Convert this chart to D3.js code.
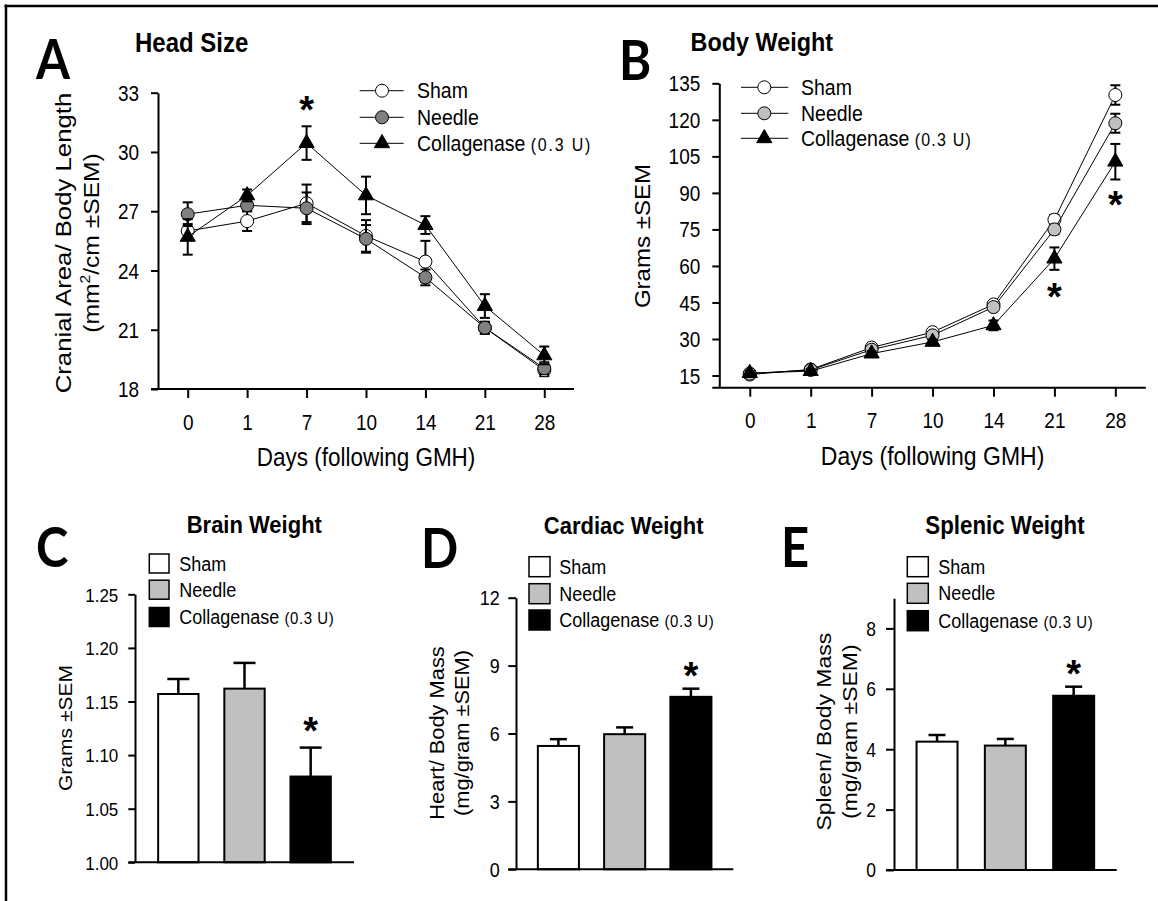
<!DOCTYPE html>
<html>
<head>
<meta charset="utf-8">
<script src="https://cdnjs.cloudflare.com/ajax/libs/d3/7.8.5/d3.min.js"></script>
<style>
  body { margin: 0; background: #fff; }
  svg { display: block; font-family: "Liberation Sans", Arial, sans-serif; }
</style>
</head>
<body>
<svg id="fig" width="1158" height="901"></svg>
<script>
// ---- data ----
var days = ["0", "1", "7", "10", "14", "21", "28"];
var groups = ["Sham", "Needle", "Collagenase"];

// A: head size (cranial area / body length)
var headSham = [26.0, 26.5, 27.4, 25.75, 24.45, 21.1, 18.95];
var headNeedle = [26.85, 27.3, 27.15, 25.6, 23.65, 21.1, 19.05];
var headColl = [25.7, 27.8, 30.45, 27.8, 26.3, 22.2, 19.7];
var headShamSem = [0.35, 0.5, 0.95, 0.8, 1.05, 0.3, 0.3];
var headNeedleSem = [0.6, 0.3, 0.8, 0.7, 0.4, 0.3, 0.3];
var headCollSem = [0.9, 0.3, 0.85, 0.95, 0.45, 0.6, 0.45];
var headTicks = [18, 21, 24, 27, 30, 33];

// B: body weight
var bodySham = [15.4, 17.5, 26.5, 32.8, 44.2, 79.0, 130.2];
var bodyNeedle = [15.8, 17.3, 25.6, 31.5, 43.1, 75.0, 118.6];
var bodyColl = [16.0, 16.8, 24.0, 28.8, 35.6, 63.0, 102.8];
var bodyShamSem = [0.8, 0.8, 1.0, 1.2, 1.3, 2.0, 4.0];
var bodyNeedleSem = [0.8, 0.8, 1.0, 1.0, 1.3, 2.0, 3.9];
var bodyCollSem = [0.8, 0.8, 1.0, 1.0, 2.0, 4.6, 7.3];
var bodyTicks = [15, 30, 45, 60, 75, 90, 105, 120, 135];

// C, D, E: organ weights (Sham, Needle, Collagenase)
var brainMean = [1.157, 1.162, 1.080];
var brainSem = [0.014, 0.024, 0.027];
var brainTicks = [1.00, 1.05, 1.10, 1.15, 1.20, 1.25];
var heartMean = [5.45, 5.97, 7.62];
var heartSem = [0.3, 0.3, 0.36];
var heartTicks = [0, 3, 6, 9, 12];
var spleenMean = [4.25, 4.12, 5.77];
var spleenSem = [0.22, 0.22, 0.3];
var spleenTicks = [0, 2, 4, 6, 8];

var svg = d3.select("#fig");
var SY = 1.12; // the source figure has its lettering slightly stretched vertically

svg.append("rect").attr("width", 1158).attr("height", 901).attr("fill", "#fff");
// frame (only top and left edges survive in the crop)
svg.append("line").attr("x1", 4.5).attr("x2", 1158).attr("y1", 6).attr("y2", 6)
  .attr("stroke", "#000").attr("stroke-width", 2.5);
svg.append("line").attr("x1", 6).attr("x2", 6).attr("y1", 4.5).attr("y2", 901)
  .attr("stroke", "#000").attr("stroke-width", 2.5);

function txt(g, x, y, str, size, anchor, bold) {
  return g.append("text")
    .attr("transform", "translate(" + x + "," + y + ") scale(1," + SY + ")")
    .attr("y", 0.355 * size)
    .attr("text-anchor", anchor || "middle")
    .attr("font-size", size)
    .attr("font-weight", bold ? "bold" : "normal")
    .attr("fill", "#000")
    .text(str);
}

function vtxt(g, x, y, str, size) {
  return g.append("text")
    .attr("transform", "translate(" + x + "," + y + ") rotate(-90) scale(" + SY + ",1)")
    .attr("y", 0.355 * size)
    .attr("text-anchor", "middle")
    .attr("font-size", size)
    .attr("fill", "#000")
    .text(str);
}

function letter(g, x, y, str) {
  txt(g, x, y, str, 49, "start", true)
    .attr("font-family", "Lato, 'Liberation Sans', sans-serif");
}

function star(g, x, cy) {
  var size = 38;
  g.append("text")
    .attr("x", x).attr("y", cy + 0.58 * size)
    .attr("text-anchor", "middle")
    .attr("font-size", size).attr("font-weight", "bold")
    .text("*");
}

function collName(t, small, spacing) {
  t.text(null);
  t.append("tspan").text("Collagenase ");
  t.append("tspan").attr("font-size", small).attr("letter-spacing", spacing).text("(0.3 U)");
}

function leftAxis(g, y, x0, ticks, fmt, size, tick, pad) {
  var ax = g.append("g")
    .attr("transform", "translate(" + x0 + ",0)")
    .call(d3.axisLeft(y).tickValues(ticks).tickFormat(fmt).tickSize(tick).tickSizeOuter(0));
  ax.attr("font-family", null).attr("font-size", null);
  ax.selectAll("path, line").attr("stroke", "#000").attr("stroke-width", 2);
  ax.selectAll(".tick text")
    .attr("x", null).attr("dy", null)
    .attr("y", 0.355 * size)
    .attr("font-size", size)
    .attr("fill", "#000")
    .attr("transform", "translate(" + (-(tick + pad)) + ",0) scale(1," + SY + ")");
  return ax;
}

// ---------- line panels (A, B) ----------
function linePanel(o) {
  var g = svg.append("g");
  var x = d3.scalePoint().domain(days).range([o.x0, o.x1]).padding(0.5);
  var y = d3.scaleLinear().domain(o.yDomain).range([o.y0, o.y1]);

  leftAxis(g, y, o.x0, o.ticks, d3.format("d"), 19, 7, 12);

  var xa = g.append("g")
    .attr("transform", "translate(0," + o.y0 + ")")
    .call(d3.axisBottom(x).tickSize(9));
  xa.attr("font-family", null).attr("font-size", null);
  xa.select(".domain").remove();
  xa.selectAll("line").attr("stroke", "#000").attr("stroke-width", 2);
  xa.selectAll(".tick text")
    .attr("dy", null)
    .attr("y", 0.355 * 19)
    .attr("font-size", 19)
    .attr("fill", "#000")
    .attr("transform", "translate(0,33) scale(1," + SY + ")");
  g.append("line")
    .attr("x1", o.x0 - 7).attr("x2", o.x1)
    .attr("y1", o.y0).attr("y2", o.y0)
    .attr("stroke", "#000").attr("stroke-width", 2);

  var line = d3.line()
    .x(function(d) { return x(d.day); })
    .y(function(d) { return y(d.m); });

  o.series.forEach(function(s) {
    var pts = days.map(function(d, i) { return { day: d, m: s.mean[i], e: s.sem[i] }; });
    var sg = g.append("g");

    sg.append("path").datum(pts)
      .attr("d", line)
      .attr("fill", "none")
      .attr("stroke", "#000")
      .attr("stroke-width", 1);

    var eb = sg.append("g").selectAll("g").data(pts).join("g")
      .attr("stroke", "#000").attr("stroke-width", 2);
    eb.append("line")
      .attr("x1", function(d) { return x(d.day); })
      .attr("x2", function(d) { return x(d.day); })
      .attr("y1", function(d) { return y(d.m - d.e); })
      .attr("y2", function(d) { return y(d.m + d.e); });
    eb.append("line")
      .attr("x1", function(d) { return x(d.day) - 5; })
      .attr("x2", function(d) { return x(d.day) + 5; })
      .attr("y1", function(d) { return y(d.m + d.e); })
      .attr("y2", function(d) { return y(d.m + d.e); });
    eb.append("line")
      .attr("x1", function(d) { return x(d.day) - 5; })
      .attr("x2", function(d) { return x(d.day) + 5; })
      .attr("y1", function(d) { return y(d.m - d.e); })
      .attr("y2", function(d) { return y(d.m - d.e); });

    if (s.shape === "tri") {
      sg.append("g").selectAll("path").data(pts).join("path")
        .attr("d", d3.symbol(d3.symbolTriangle, 100))
        .attr("transform", function(d) { return "translate(" + x(d.day) + "," + y(d.m) + ")"; })
        .attr("fill", "#000").attr("stroke", "#000").attr("stroke-width", 1);
    } else {
      sg.append("g").selectAll("circle").data(pts).join("circle")
        .attr("cx", function(d) { return x(d.day); })
        .attr("cy", function(d) { return y(d.m); })
        .attr("r", 6.5)
        .attr("fill", s.fill).attr("stroke", "#000").attr("stroke-width", 1);
    }
  });

  o.stars.forEach(function(st) {
    var s = o.series[2];
    var i = days.indexOf(st.day);
    var base = st.above ? y(s.mean[i] + s.sem[i]) - st.gap : y(s.mean[i] - s.sem[i]) + st.gap;
    star(g, x(st.day), base);
  });

  // legend
  var L = o.legend;
  o.series.forEach(function(s, i) {
    var ry = L.rows[i];
    g.append("line").attr("x1", L.l0).attr("x2", L.l1).attr("y1", ry).attr("y2", ry)
      .attr("stroke", "#000").attr("stroke-width", 1);
    if (s.shape === "tri") {
      g.append("path").attr("d", d3.symbol(d3.symbolTriangle, 100)())
        .attr("transform", "translate(" + L.m + "," + ry + ")")
        .attr("fill", "#000").attr("stroke", "#000");
    } else {
      g.append("circle").attr("cx", L.m).attr("cy", ry).attr("r", 6.5)
        .attr("fill", s.fill).attr("stroke", "#000");
    }
    var t = txt(g, L.t, ry, s.name, 19.5, "start");
    if (i === 2) collName(t, 16, L.sp);
  });

  txt(g, o.title[0], o.title[1], o.title[2], o.title[3], "start", true);
  letter(g, o.letter[0], o.letter[1], o.letter[2]);
  txt(g, (o.x0 + o.x1) / 2, o.y0 + 68, "Days (following GMH)", o.xlabSize);
  return g;
}

var gA = linePanel({
  x0: 158, x1: 574, y0: 389, y1: 92.7, yDomain: [18, 33], ticks: headTicks,
  series: [
    { name: "Sham", mean: headSham, sem: headShamSem, shape: "circle", fill: "#fff" },
    { name: "Needle", mean: headNeedle, sem: headNeedleSem, shape: "circle", fill: "#808080" },
    { name: "Collagenase", mean: headColl, sem: headCollSem, shape: "tri", fill: "#000" }
  ],
  stars: [{ day: "7", above: true, gap: 25 }],
  legend: { l0: 359.7, l1: 403.7, m: 382, t: 417, rows: [90.7, 117.3, 143.3], sp: 1.8 },
  title: [135, 42, "Head Size", 24],
  letter: [36, 60, "A"],
  xlabSize: 22.5
});
vtxt(gA, 63, 243, "Cranial Area/ Body Length", 23);
var yl = vtxt(gA, 91.5, 243, "", 22);
yl.append("tspan").text("(mm");
yl.append("tspan").attr("font-size", 14).attr("dy", -9).text("2");
yl.append("tspan").attr("dy", 9).text("/cm ±SEM)");

var gB = linePanel({
  x0: 719.3, x1: 1145.8, y0: 387.7, y1: 83.3, yDomain: [10, 135], ticks: bodyTicks,
  series: [
    { name: "Sham", mean: bodySham, sem: bodyShamSem, shape: "circle", fill: "#fff" },
    { name: "Needle", mean: bodyNeedle, sem: bodyNeedleSem, shape: "circle", fill: "#c0c0c0" },
    { name: "Collagenase", mean: bodyColl, sem: bodyCollSem, shape: "tri", fill: "#000" }
  ],
  stars: [{ day: "21", above: false, gap: 18 }, { day: "28", above: false, gap: 16 }],
  legend: { l0: 741, l1: 788.3, m: 764.3, t: 801, rows: [87.3, 113.3, 138.3], sp: 1.2 },
  title: [690.6, 41.7, "Body Weight", 23.4],
  letter: [619, 61, "B"],
  xlabSize: 23
});
vtxt(gB, 642.7, 236, "Grams ±SEM", 21.5);

// ---------- bar panels (C, D, E) ----------
var fills = ["#fff", "#c0c0c0", "#000"];

function barPanel(o) {
  var g = svg.append("g");
  var x = d3.scaleBand().domain(groups).range([o.x0, o.x1]).paddingInner(o.pi).paddingOuter(o.po);
  var y = d3.scaleLinear().domain(o.yDomain).range([o.y0, o.y1]);
  var rows = groups.map(function(gname, i) { return { g: gname, m: o.mean[i], e: o.sem[i], fill: fills[i] }; });

  g.selectAll("rect.bar").data(rows).join("rect")
    .attr("class", "bar")
    .attr("x", function(d) { return x(d.g); })
    .attr("width", x.bandwidth())
    .attr("y", function(d) { return y(d.m); })
    .attr("height", function(d) { return o.y0 - y(d.m); })
    .attr("fill", function(d) { return d.fill; })
    .attr("stroke", "#000").attr("stroke-width", 2);

  var eb = g.append("g").selectAll("g").data(rows).join("g")
    .attr("stroke", "#000").attr("stroke-width", 2.5);
  eb.append("line")
    .attr("x1", function(d) { return x(d.g) + x.bandwidth() / 2; })
    .attr("x2", function(d) { return x(d.g) + x.bandwidth() / 2; })
    .attr("y1", function(d) { return y(d.m); })
    .attr("y2", function(d) { return y(d.m + d.e); });
  eb.append("line")
    .attr("x1", function(d) { return x(d.g) + x.bandwidth() / 2 - o.cap / 2; })
    .attr("x2", function(d) { return x(d.g) + x.bandwidth() / 2 + o.cap / 2; })
    .attr("y1", function(d) { return y(d.m + d.e); })
    .attr("y2", function(d) { return y(d.m + d.e); });

  leftAxis(g, y, o.x0, o.ticks, o.fmt, o.tickSize, o.tick, o.pad);
  g.append("line")
    .attr("x1", o.x0 - o.tick).attr("x2", o.x1)
    .attr("y1", o.y0).attr("y2", o.y0)
    .attr("stroke", "#000").attr("stroke-width", 2);

  var c = rows[2];
  star(g, x(c.g) + x.bandwidth() / 2, y(c.m + c.e) - o.starGap);

  // legend
  var L = o.legend;
  rows.forEach(function(d, i) {
    g.append("rect")
      .attr("x", L.x).attr("y", L.rows[i] - L.h / 2)
      .attr("width", L.w).attr("height", L.h)
      .attr("fill", d.fill).attr("stroke", "#000").attr("stroke-width", 1.5);
    var t = txt(g, L.t, L.rows[i], d.g, 18, "start");
    if (i === 2) collName(t, 15, 0.6);
  });

  txt(g, o.title[0], o.title[1], o.title[2], o.title[3], "middle", true);
  letter(g, o.letter[0], o.letter[1], o.letter[2]);
  return g;
}

var gC = barPanel({
  x0: 135, x1: 354, y0: 862.3, y1: 594.3, yDomain: [1.00, 1.25], pi: 0.39, po: 0.35,
  mean: brainMean, sem: brainSem, ticks: brainTicks, fmt: d3.format(".2f"),
  tickSize: 17, tick: 6.7, pad: 10, cap: 22, starGap: 26,
  legend: { x: 149.3, w: 19.7, h: 19, t: 179.3, rows: [563.5, 589.7, 617] },
  title: [254.3, 524, "Brain Weight", 22],
  letter: [36, 548, "C"]
});
vtxt(gC, 65, 728, "Grams ±SEM", 18.8);

var gD = barPanel({
  x0: 516, x1: 733.3, y0: 869.3, y1: 597.7, yDomain: [0, 12], pi: 0.38, po: 0.33,
  mean: heartMean, sem: heartSem, ticks: heartTicks, fmt: d3.format("d"),
  tickSize: 18, tick: 7.7, pad: 8.5, cap: 17, starGap: 22,
  legend: { x: 529, w: 21, h: 20, t: 559.3, rows: [566.7, 593.7, 620] },
  title: [623.7, 525, "Cardiac Weight", 22],
  letter: [421, 548.5, "D"]
});
vtxt(gD, 436.7, 733, "Heart/ Body Mass", 19.5);
vtxt(gD, 461.7, 733, "(mg/gram ±SEM)", 19.5);

var gE = barPanel({
  x0: 894, x1: 1116.7, y0: 870, y1: 598.2, yDomain: [0, 9], pi: 0.4, po: 0.33,
  mean: spleenMean, sem: spleenSem, ticks: spleenTicks, fmt: d3.format("d"),
  tickSize: 17.5, tick: 8, pad: 10, cap: 17, starGap: 22,
  legend: { x: 907.3, w: 21, h: 20, t: 938.3, rows: [566.7, 593.3, 620.7] },
  title: [1005, 525, "Splenic Weight", 22.3],
  letter: [781, 548, "E"]
});
vtxt(gE, 823.3, 731.7, "Spleen/ Body Mass", 20.5);
vtxt(gE, 850, 731.7, "(mg/gram ±SEM)", 20.5);
</script>
</body>
</html>
